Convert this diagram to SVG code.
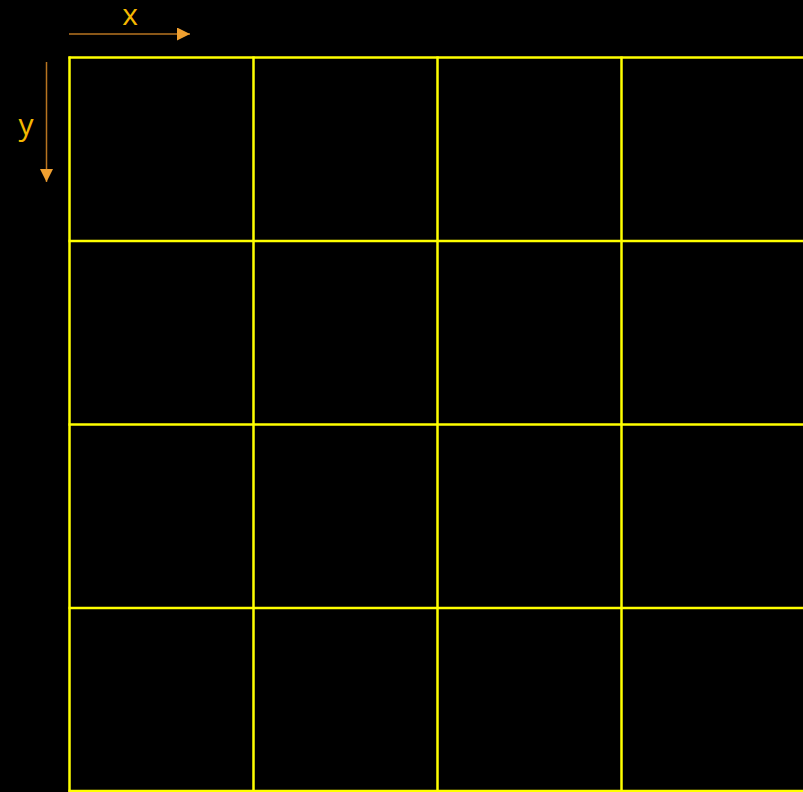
<svg xmlns="http://www.w3.org/2000/svg" width="803" height="792" viewBox="0 0 803 792">
<style>
.grid{stroke:#ffff00;stroke-width:2.5;fill:none}
.axis{stroke:#b87420;stroke-width:1.5;fill:none}
.lbl{font-family:"Open Sans","Liberation Sans",sans-serif;font-size:30px;fill:#f5b800}
</style>
<defs>
<marker id="ah" viewBox="0 0 10 10" refX="10" refY="5" markerWidth="13" markerHeight="13" markerUnits="userSpaceOnUse" orient="auto">
<path d="M0,0 L10,5 L0,10 Z" fill="#f0a030"/>
</marker>
</defs>
<rect width="803" height="792" fill="#000"/>
<g id="grid" class="grid">
<line x1="69.5" y1="56.5" x2="69.5" y2="792"/>
<line x1="253.5" y1="56.5" x2="253.5" y2="792"/>
<line x1="437.5" y1="56.5" x2="437.5" y2="792"/>
<line x1="621.5" y1="56.5" x2="621.5" y2="792"/>
<line x1="68.5" y1="57.5" x2="803" y2="57.5"/>
<line x1="68.5" y1="241" x2="803" y2="241"/>
<line x1="68.5" y1="424.5" x2="803" y2="424.5"/>
<line x1="68.5" y1="608" x2="803" y2="608"/>
<line x1="68.5" y1="791" x2="803" y2="791"/>
</g>
<g id="connectors">
<line class="axis" x1="69" y1="34" x2="190" y2="34" marker-end="url(#ah)"/>
<line class="axis" x1="46.5" y1="62" x2="46.5" y2="182" marker-end="url(#ah)"/>
</g>
<g id="x-label"><text class="lbl" x="130" y="25" text-anchor="middle">x</text></g>
<g id="y-label"><text class="lbl" x="26" y="135" text-anchor="middle">y</text></g>
</svg>
